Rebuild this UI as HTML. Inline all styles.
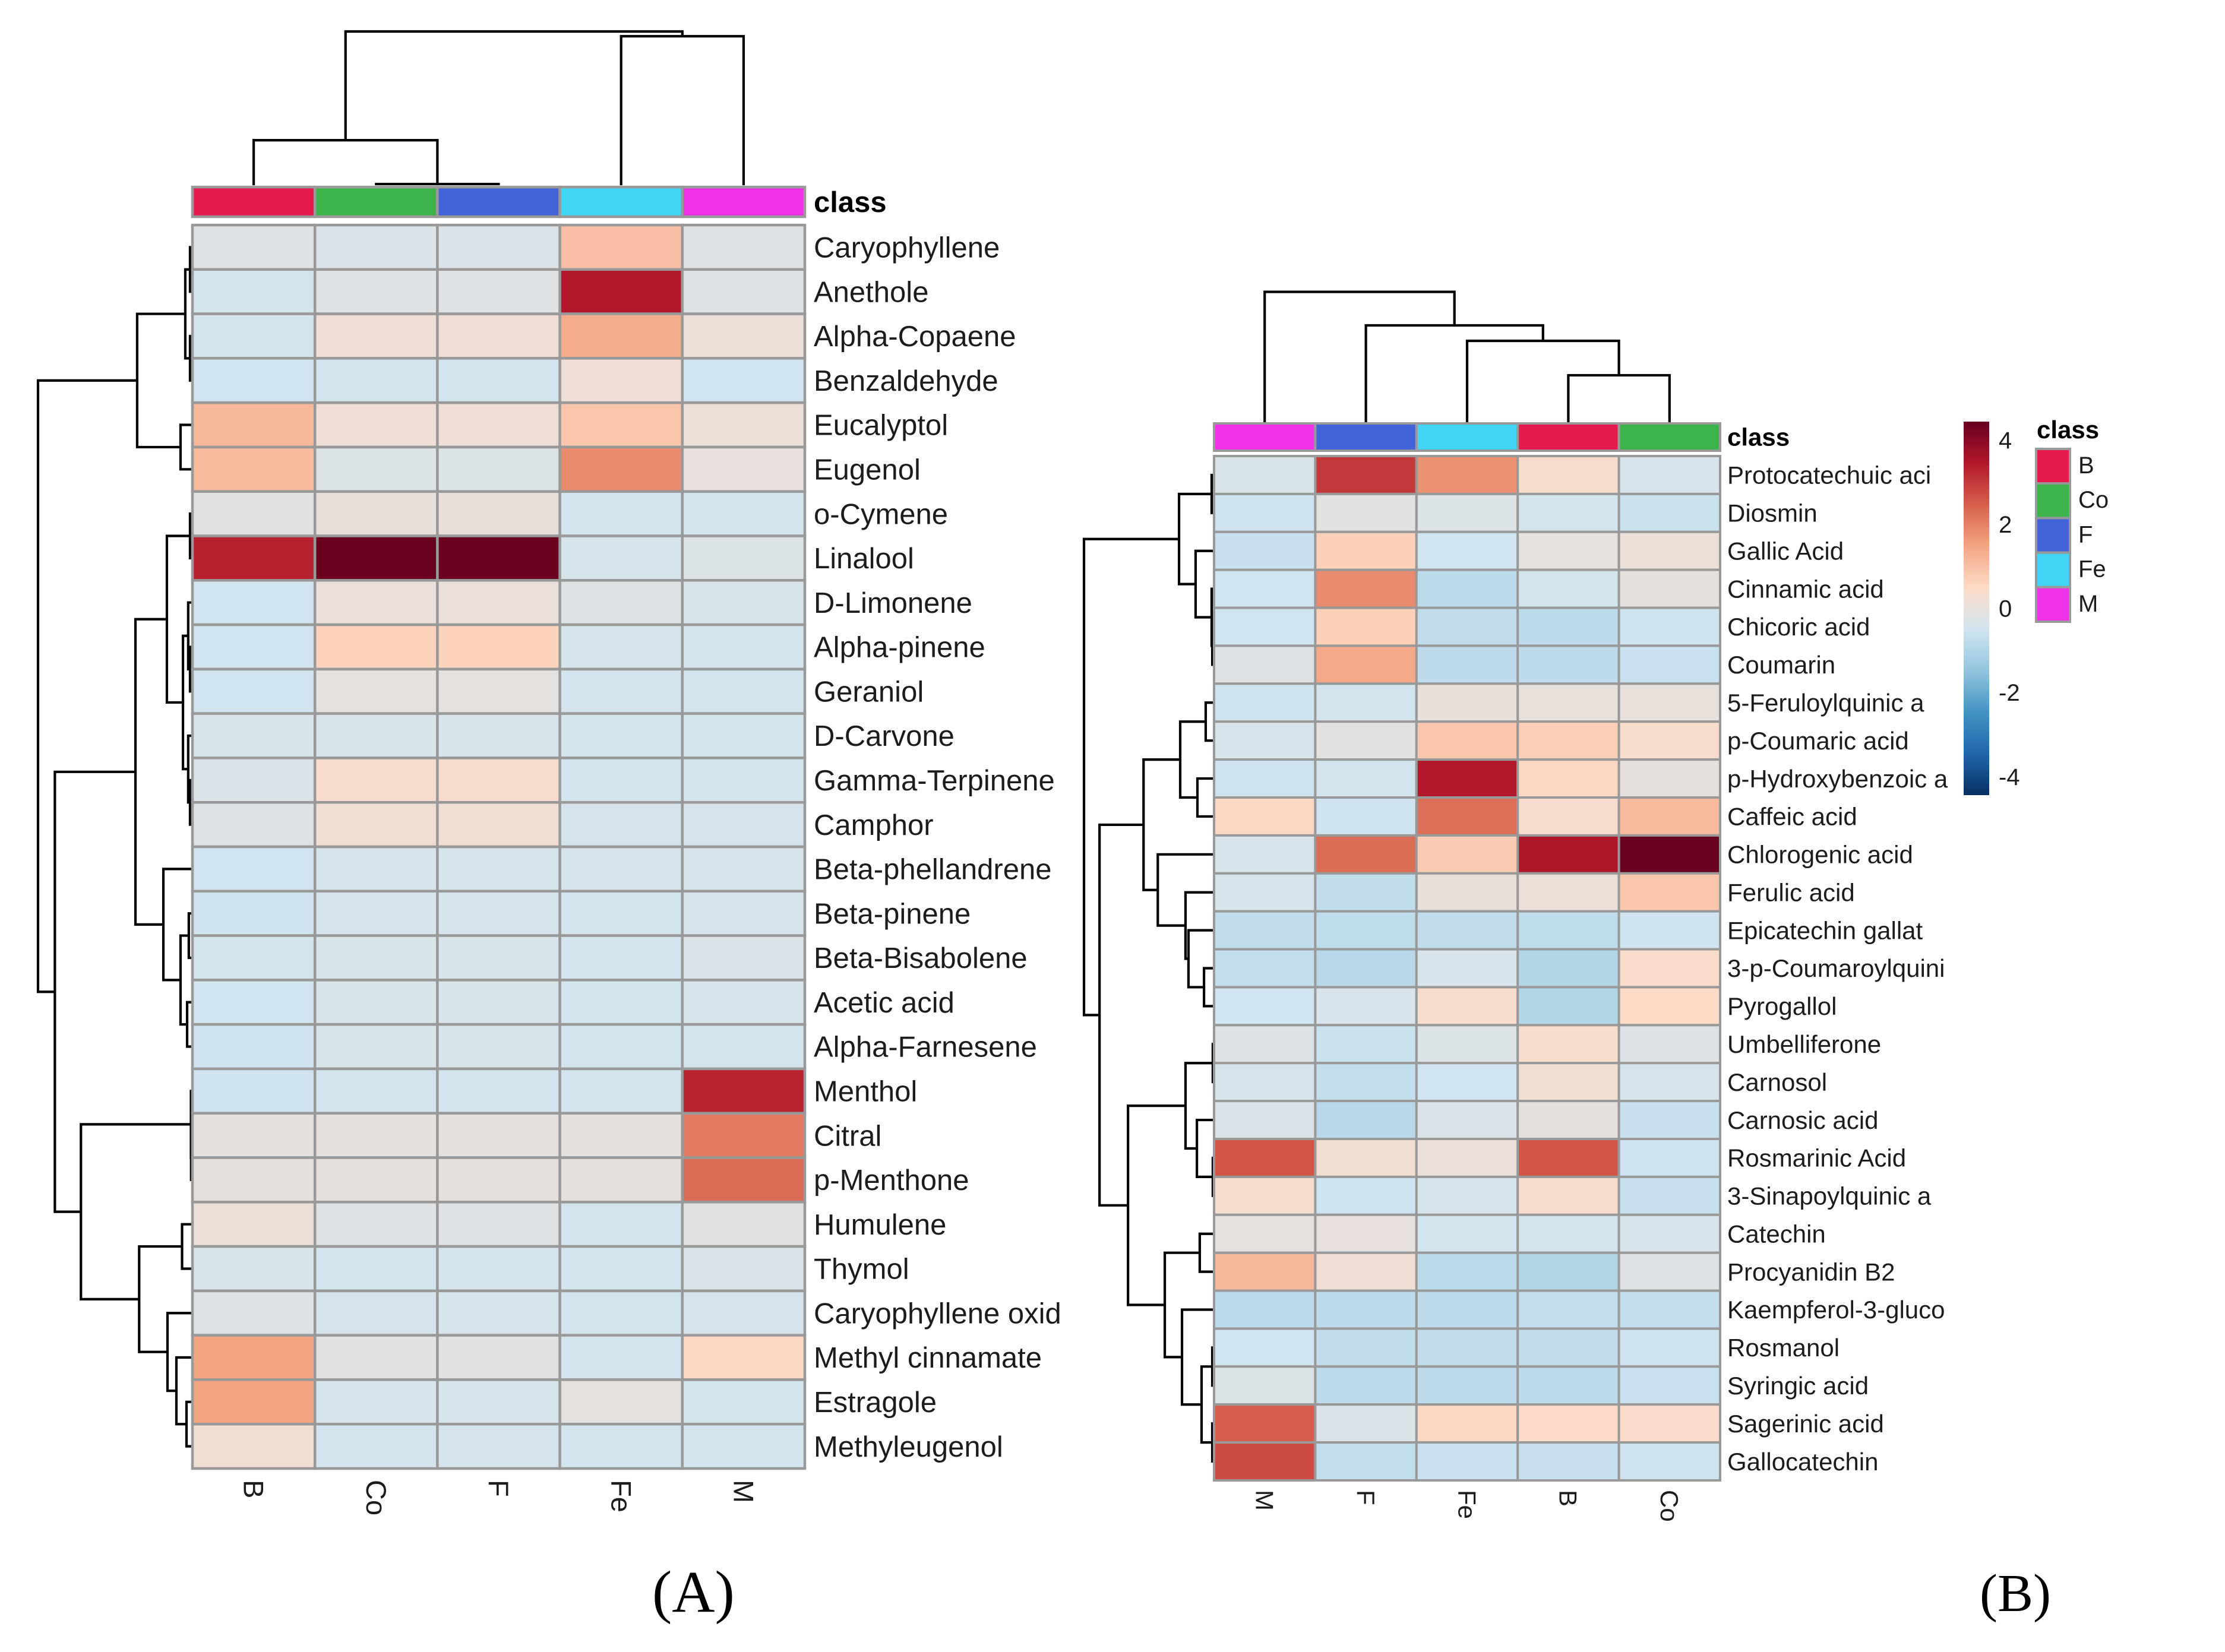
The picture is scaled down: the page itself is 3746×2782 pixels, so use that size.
<!DOCTYPE html>
<html lang="en">
<head>
<meta charset="utf-8">
<title>Clustered heatmaps (A) and (B)</title>
<style>
html,body{margin:0;padding:0;background:#fff;}
svg{display:block;}
text{font-family:"Liberation Sans",sans-serif;fill:#1c1c1c;}
</style>
</head>
<body>
<svg id="fig" xmlns="http://www.w3.org/2000/svg" width="3746" height="2782" viewBox="0 0 3746 2782">
  <defs>
    <linearGradient id="ramp" x1="0" y1="1" x2="0" y2="0"></linearGradient>
  </defs>
  <rect x="0" y="0" width="3746" height="2782" fill="#ffffff"></rect>
  <text x="1098" y="2714" font-size="100" style="font-family:'Liberation Serif',serif;fill:#000">(A)</text>
  <text x="3333" y="2713" font-size="90" style="font-family:'Liberation Serif',serif;fill:#000">(B)</text>
</svg>
<script>
// ---------- shared data ----------
const paletteStops = ['#053061','#2166ac','#4393c3','#92c5de','#d1e5f0','#fddbc7','#f4a582','#d6604d','#b2182b','#67001f'];
const scaleDomain = [-4.44, 4.44];
const legendTicks = [4, 2, 0, -2, -4];
const legendClasses = ['B','Co','F','Fe','M'];
const classColors = {B:'#e61a4c',Co:'#3cb44b',F:'#4363d8',Fe:'#42d4f4',M:'#f032e6'};

// ---------- panel A data ----------
const columnsA = ['B','Co','F','Fe','M'];
const rowsA = ['Caryophyllene','Anethole','Alpha-Copaene','Benzaldehyde','Eucalyptol','Eugenol','o-Cymene','Linalool','D-Limonene','Alpha-pinene','Geraniol','D-Carvone','Gamma-Terpinene','Camphor','Beta-phellandrene','Beta-pinene','Beta-Bisabolene','Acetic acid','Alpha-Farnesene','Menthol','Citral','p-Menthone','Humulene','Thymol','Caryophyllene oxid','Methyl cinnamate','Estragole','Methyleugenol'];
const valuesA = [
[-0.2,-0.3,-0.3,1.0,-0.2],
[-0.48,-0.2,-0.2,3.45,-0.2],
[-0.48,0.15,0.15,1.35,0.08],
[-0.5,-0.48,-0.46,0.15,-0.5],
[1.15,0.15,0.15,0.9,0.1],
[1.1,-0.25,-0.25,1.85,0],
[-0.15,0.05,0.05,-0.46,-0.48],
[3.35,4.4,4.4,-0.38,-0.25],
[-0.5,0.07,0.07,-0.22,-0.35],
[-0.5,0.62,0.62,-0.38,-0.44],
[-0.5,-0.05,-0.05,-0.44,-0.48],
[-0.36,-0.36,-0.36,-0.42,-0.42],
[-0.3,0.35,0.35,-0.46,-0.46],
[-0.2,0.22,0.22,-0.4,-0.4],
[-0.5,-0.38,-0.38,-0.4,-0.38],
[-0.52,-0.38,-0.38,-0.48,-0.38],
[-0.48,-0.35,-0.35,-0.46,-0.3],
[-0.5,-0.36,-0.36,-0.48,-0.38],
[-0.52,-0.36,-0.36,-0.48,-0.42],
[-0.52,-0.44,-0.44,-0.48,3.3],
[-0.03,-0.03,-0.03,-0.03,2.1],
[-0.03,-0.03,-0.03,-0.03,2.3],
[0.1,-0.2,-0.2,-0.48,-0.08],
[-0.36,-0.46,-0.42,-0.48,-0.3],
[-0.22,-0.4,-0.38,-0.48,-0.4],
[1.5,-0.13,-0.13,-0.48,0.55],
[1.5,-0.38,-0.38,-0.05,-0.42],
[0.2,-0.44,-0.4,-0.48,-0.48]
];
// dendrograms: [height, left, right]; a bare number is a leaf index
const rowTreeA = [100,
  [35.3,[3.9,[0.8,0,1],[0.8,2,3]],[7,4,5]],
  [89,
    [36.4,
      [15.9,[0.8,6,7],[5.4,[2,8,[0.8,9,10]],[2,11,[0.8,12,13]]]],
      [18.2,14,[7,[1.6,15,16],[2.7,17,18]]]],
    [72,
      [0.2,19,[0.1,20,21]],
      [34,[6,22,23],[15.5,24,[9.7,25,[3.1,26,27]]]]]]];
const colTreeA = [100,[29.3,0,[0.8,1,2]],[96.9,3,4]];

// ---------- panel B data ----------
const columnsB = ['M','F','Fe','B','Co'];
const rowsB = ['Protocatechuic aci','Diosmin','Gallic Acid','Cinnamic acid','Chicoric acid','Coumarin','5-Feruloylquinic a','p-Coumaric acid','p-Hydroxybenzoic a','Caffeic acid','Chlorogenic acid','Ferulic acid','Epicatechin gallat','3-p-Coumaroylquini','Pyrogallol','Umbelliferone','Carnosol','Carnosic acid','Rosmarinic Acid','3-Sinapoylquinic a','Catechin','Procyanidin B2','Kaempferol-3-gluco','Rosmanol','Syringic acid','Sagerinic acid','Gallocatechin'];
const valuesB = [
[-0.33,3.0,1.75,0.35,-0.37],
[-0.54,-0.1,-0.28,-0.42,-0.6],
[-0.66,0.7,-0.5,-0.05,0.1],
[-0.5,1.85,-0.84,-0.47,-0.03],
[-0.5,0.7,-0.75,-0.8,-0.52],
[-0.2,1.4,-0.8,-0.8,-0.62],
[-0.52,-0.46,0.05,0.03,0.03],
[-0.37,-0.08,0.85,0.72,0.35],
[-0.54,-0.46,3.45,0.55,-0.02],
[0.55,-0.52,2.25,0.35,1.1],
[-0.37,2.3,0.8,3.5,4.42],
[-0.39,-0.75,0.05,0.12,0.9],
[-0.75,-0.77,-0.75,-0.77,-0.52],
[-0.71,-0.88,-0.37,-0.97,0.42],
[-0.5,-0.37,0.35,-0.97,0.5],
[-0.24,-0.6,-0.28,0.37,-0.24],
[-0.39,-0.69,-0.5,0.22,-0.39],
[-0.3,-0.88,-0.3,-0.03,-0.64],
[2.6,0.2,0.07,2.6,-0.55],
[0.3,-0.55,-0.39,0.38,-0.66],
[-0.05,0,-0.47,-0.47,-0.37],
[1.15,0.18,-0.84,-0.97,-0.2],
[-0.8,-0.84,-0.8,-0.73,-0.73],
[-0.5,-0.75,-0.75,-0.75,-0.54],
[-0.28,-0.8,-0.8,-0.81,-0.62],
[2.5,-0.3,0.55,0.48,0.45],
[2.75,-0.73,-0.62,-0.66,-0.54]
];
const rowTreeB = [100,
  [26.6,[1.4,0,1],[13.8,2,[1.4,3,[0.9,4,5]]]],
  [88,
    [54,
      [25.7,[6,6,7],[12.4,8,9]],
      [43,10,[21.6,11,[19.3,12,[7.3,13,14]]]]],
    [66,
      [21.6,[0.5,15,16],[12.8,17,[0.5,18,19]]],
      [37.6,[10.6,20,21],[24.3,22,[9.2,[0.9,23,24],[0.9,25,26]]]]]]];
const colTreeB = [100,0,[74.4,1,[62.6,2,[36.3,3,4]]]];

// ---------- helpers ----------
const svg = document.getElementById('fig');
const NS = 'http://www.w3.org/2000/svg';
function mk(tag, attrs, parent, txt){
  const el = document.createElementNS(NS, tag);
  for (const k in attrs) el.setAttribute(k, attrs[k]);
  if (txt !== undefined) el.textContent = txt;
  (parent || svg).appendChild(el);
  return el;
}
function hexToRgb(h){return [1,3,5].map(i=>parseInt(h.substr(i,2),16));}
function colorScale(v){
  const t = Math.max(0, Math.min(1, (v - scaleDomain[0]) / (scaleDomain[1] - scaleDomain[0])));
  const p = t * (paletteStops.length - 1);
  const i = Math.min(paletteStops.length - 2, Math.floor(p));
  const f = p - i;
  const a = hexToRgb(paletteStops[i]);
  const b = hexToRgb(paletteStops[i + 1]);
  return 'rgb(' + a.map((c, k) => Math.round(c + (b[k] - c) * f)).join(',') + ')';
}

// draws a dendrogram; pos(leaf) is the leaf position, dist(h) maps height to the other axis
function drawTree(node, pos, dist, horizontal, parent, width){
  if (typeof node === 'number') return {p: pos(node), d: dist(0)};
  const a = drawTree(node[1], pos, dist, horizontal, parent, width);
  const b = drawTree(node[2], pos, dist, horizontal, parent, width);
  const d = dist(node[0]);
  const pt = (p, q) => horizontal ? q + ' ' + p : p + ' ' + q;
  const el = mk('path', {
    d: 'M' + pt(a.p, a.d) + ' L' + pt(a.p, d) + ' L' + pt(b.p, d) + ' L' + pt(b.p, b.d),
    fill: 'none', stroke: '#000', 'stroke-width': width
  }, parent);
  
  
  return {p: (a.p + b.p) / 2, d: d};
}

function drawPanel(cfg){
  const g = mk('g', {});
  
  
  const colW = (cfg.right - cfg.left) / cfg.columns.length;
  const rowH = (cfg.bottom - cfg.top) / cfg.rows.length;
  const xCol = c => cfg.left + c * colW;
  const yRow = r => cfg.top + r * rowH;

  // dendrograms
  drawTree(cfg.colTree, c => xCol(c) + colW / 2, h => cfg.colBase - h * cfg.colUnit, false, g, cfg.lineW);
  drawTree(cfg.rowTree, r => yRow(r) + rowH / 2, h => cfg.rowBase - h * cfg.rowUnit, true, g, cfg.lineW);

  // class annotation bar
  cfg.columns.forEach((name, c) => {
    const bar = mk('rect', {x: xCol(c), y: cfg.barTop, width: colW, height: cfg.barBottom - cfg.barTop, fill: classColors[name], stroke: '#999999', 'stroke-width': cfg.gridW}, g);
    
    
  });
  const classTitle = mk('text', {x: cfg.labelX, y: (cfg.barTop + cfg.barBottom) / 2 + cfg.font * 0.35, 'font-size': cfg.font, 'font-weight': 'bold', style: 'fill:#000'}, g, 'class');
  
  

  // cells
  cfg.rows.forEach((rowName, r) => {
    cfg.columns.forEach((colName, c) => {
      const cell = mk('rect', {x: xCol(c), y: yRow(r), width: colW, height: rowH, fill: colorScale(cfg.values[r][c]), stroke: '#999999', 'stroke-width': cfg.gridW}, g);
      
      
    });
    const label = mk('text', {x: cfg.labelX, y: yRow(r) + rowH / 2 + cfg.font * 0.35, 'font-size': cfg.font}, g, rowName);
    
    
  });

  // column labels, rotated clockwise
  cfg.columns.forEach((name, c) => {
    const cx = xCol(c) + colW / 2 - cfg.colFont * 0.35;
    const label = mk('text', {x: 0, y: 0, 'font-size': cfg.colFont, transform: 'translate(' + cx + ' ' + cfg.colLabelY + ') rotate(90)'}, g, name);
    
    
  });
}

drawPanel({name:'heatmap-panel-a', columns:columnsA, rows:rowsA, values:valuesA, rowTree:rowTreeA, colTree:colTreeA,
  left:324, right:1355, top:379, bottom:2473, barTop:315, barBottom:365,
  colBase:312, colUnit:2.59, rowBase:322, rowUnit:2.58, lineW:4.2, gridW:4.5,
  labelX:1370, font:49, colFont:47, colLabelY:2492});

drawPanel({name:'heatmap-panel-b', columns:columnsB, rows:rowsB, values:valuesB, rowTree:rowTreeB, colTree:colTreeB,
  left:2044, right:2896, top:768, bottom:2493, barTop:713, barBottom:759,
  colBase:712, colUnit:2.205, rowBase:2043, rowUnit:2.18, lineW:4.2, gridW:4,
  labelX:2908, font:42, colFont:42, colLabelY:2509});

// ---------- colour bar legend ----------
const ramp = document.getElementById('ramp');
paletteStops.forEach((c, i) => {
  mk('stop', {offset: i / (paletteStops.length - 1), 'stop-color': c}, ramp);
});
const barTop = 710, barBottom = 1339;
const yLegend = v => barTop + (scaleDomain[1] - v) / (scaleDomain[1] - scaleDomain[0]) * (barBottom - barTop);
const colorbar = mk('rect', {x: 3306, y: barTop, width: 43, height: barBottom - barTop, fill: 'url(#ramp)'});


legendTicks.forEach(v => {
  const t = mk('text', {x: 3365, y: yLegend(v) + 14, 'font-size': 40}, svg, String(v));
  
  
});

// ---------- class legend ----------
const legendTitle = mk('text', {x: 3429, y: 738, 'font-size': 42, 'font-weight': 'bold', style: 'fill:#000'}, svg, 'class');


const swatchH = (1047 - 754) / legendClasses.length;
legendClasses.forEach((name, i) => {
  const sw = mk('rect', {x: 3428, y: 756 + i * (swatchH - 0.4), width: 57, height: swatchH - 0.4, fill: classColors[name], stroke: '#999999', 'stroke-width': 4});
  
  
  const lab = mk('text', {x: 3499, y: 797 + i * 58.2, 'font-size': 40}, svg, name);
  
  
});
</script>
</body>
</html>
